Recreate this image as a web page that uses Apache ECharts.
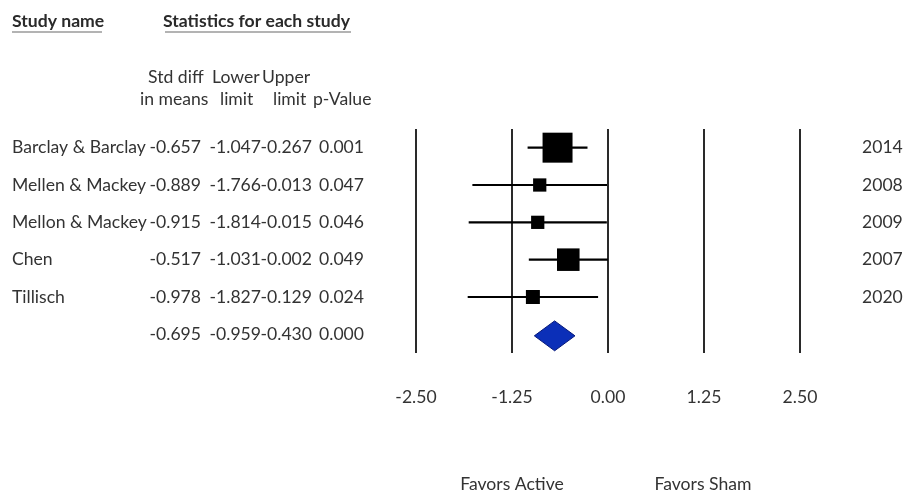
<!DOCTYPE html>
<html>
<head>
<meta charset="utf-8">
<script src="https://cdn.jsdelivr.net/npm/echarts@6/dist/echarts.min.js"></script>
<style>
html,body{margin:0;padding:0;background:#fff;}
#chart{width:909px;height:494px;}
</style>
</head>
<body>
<div id="chart"></div>
<script>
// ---- data ----
const studies = ['Barclay & Barclay', 'Mellen & Mackey', 'Mellon & Mackey', 'Chen', 'Tillisch', ''];
const stdDiff = [-0.657, -0.889, -0.915, -0.517, -0.978, -0.695];
const lowerLimit = [-1.047, -1.766, -1.814, -1.031, -1.827, -0.959];
const upperLimit = [-0.267, -0.013, -0.015, -0.002, -0.129, -0.430];
const pValues = ['0.001', '0.047', '0.046', '0.049', '0.024', '0.000'];
const years = ['2014', '2008', '2009', '2007', '2020', ''];
const weights = [46, 9, 9, 26, 10];
const xMin = -2.5, xMax = 2.5, xStep = 1.25;
const summaryIndex = 5;

const FONT = 'Lato';
const TXT = '#333';
const FS = 17.6;

const chart = echarts.init(document.getElementById('chart'), null, {renderer: 'canvas'});

const gridLeft = 416, gridRight = 109, gridTop = 129, gridBottom = 141;

function colAxis(labels, offset) {
  return {
    type: 'category', gridIndex: 0, position: 'left', inverse: true, offset: offset,
    data: labels,
    axisLine: {show: false}, axisTick: {show: false}, splitLine: {show: false},
    axisLabel: {margin: 0, align: 'right', color: TXT, fontFamily: FONT, fontSize: FS}
  };
}

function txt(text, x, y, opts) {
  return Object.assign({type: 'text', x: x, y: y,
    style: Object.assign({text: text, font: FS + 'px ' + FONT, fill: TXT,
      textAlign: 'left', textVerticalAlign: 'middle'}, opts || {})});
}

const option = {
  animation: false,
  backgroundColor: '#fff',
  grid: {left: gridLeft, right: gridRight, top: gridTop, bottom: gridBottom, containLabel: false},
  xAxis: {
    type: 'value', min: xMin, max: xMax, interval: xStep,
    axisLine: {show: false}, axisTick: {show: false},
    splitLine: {show: true, lineStyle: {color: '#2a2a2a', width: 2}},
    axisLabel: {margin: 35, color: TXT, fontFamily: FONT, fontSize: FS,
      formatter: v => v.toFixed(2)}
  },
  yAxis: [
    {
      type: 'category', gridIndex: 0, position: 'left', inverse: true,
      data: studies,
      axisLine: {show: false}, axisTick: {show: false}, splitLine: {show: false},
      axisLabel: {margin: gridLeft - 12, align: 'left', color: TXT, fontFamily: FONT, fontSize: FS}
    },
    colAxis(stdDiff.map(v => v.toFixed(3)), gridLeft - 201),
    colAxis(lowerLimit.map(v => v.toFixed(3)), gridLeft - 261),
    colAxis(upperLimit.map(v => v.toFixed(3)), gridLeft - 312),
    colAxis(pValues, gridLeft - 364),
    {
      type: 'category', gridIndex: 0, position: 'right', inverse: true,
      data: years,
      axisLine: {show: false}, axisTick: {show: false}, splitLine: {show: false},
      axisLabel: {margin: 62, align: 'left', color: TXT, fontFamily: FONT, fontSize: FS}
    }
  ],
  series: [
    {
      type: 'custom', name: 'CI', yAxisIndex: 0,
      data: lowerLimit.slice(0, summaryIndex).map((l, i) => [l, upperLimit[i], i]),
      encode: {x: [0, 1], y: 2},
      renderItem: function (params, api) {
        const a = api.coord([api.value(0), api.value(2)]);
        const b = api.coord([api.value(1), api.value(2)]);
        return {type: 'line', shape: {x1: a[0], y1: a[1], x2: b[0], y2: b[1]},
          style: {stroke: '#000', lineWidth: 2.2}};
      },
      z: 2
    },
    {
      type: 'scatter', name: 'Std diff', yAxisIndex: 0,
      symbol: 'rect',
      data: stdDiff.slice(0, summaryIndex).map((v, i) => [v, i, weights[i]]),
      symbolSize: val => 4.42 * Math.sqrt(val[2]),
      itemStyle: {color: '#000', opacity: 1},
      z: 3
    },
    {
      type: 'custom', name: 'Summary', yAxisIndex: 0,
      data: [[lowerLimit[summaryIndex], stdDiff[summaryIndex], upperLimit[summaryIndex], summaryIndex]],
      encode: {x: [0, 1, 2], y: 3},
      renderItem: function (params, api) {
        const row = api.value(3);
        const l = api.coord([api.value(0), row]);
        const m = api.coord([api.value(1), row]);
        const r = api.coord([api.value(2), row]);
        const h = api.size([0, 1])[1] * 0.4;
        const cy = m[1] + 1.5;
        return {type: 'polygon',
          shape: {points: [[l[0], cy], [m[0], cy - h], [r[0], cy], [m[0], cy + h]]},
          style: {fill: '#0b2fb8', stroke: '#05177a', lineWidth: 1}};
      },
      z: 3
    }
  ],
  graphic: [
    txt('Study name', 12, 21, {font: 'bold 17.6px ' + FONT, fill: '#2a2a2a'}),
    txt('Statistics for each study', 163, 21, {font: 'bold 17.6px ' + FONT, fill: '#2a2a2a'}),
    {type: 'line', shape: {x1: 12, y1: 32, x2: 102, y2: 32}, style: {stroke: '#9a9a9a', lineWidth: 1.5}},
    {type: 'line', shape: {x1: 165, y1: 32, x2: 351, y2: 32}, style: {stroke: '#9a9a9a', lineWidth: 1.5}},
    txt('Std diff', 148, 77),
    txt('Lower', 212, 77),
    txt('Upper', 262, 77),
    txt('in means', 140, 99),
    txt('limit', 220, 99),
    txt('limit', 273, 99),
    txt('p-Value', 313, 99),
    txt('Favors Active', 512, 484, {textAlign: 'center'}),
    txt('Favors Sham', 703, 484, {textAlign: 'center'})
  ]
};
chart.setOption(option);
</script>
</body>
</html>
